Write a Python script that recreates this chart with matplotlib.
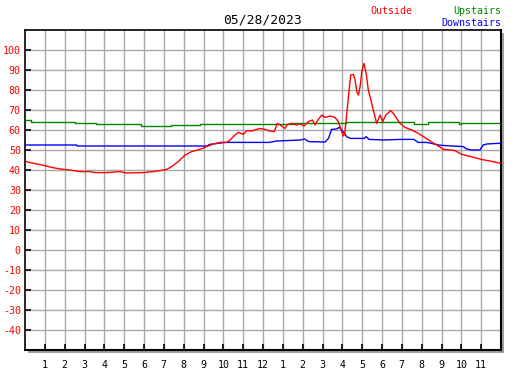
import matplotlib
matplotlib.use("Agg")
import matplotlib.pyplot as plt
from matplotlib.patches import Rectangle

title = "05/28/2023"
x_tick_hours = list(range(1, 24))
x_tick_labels = ["1", "2", "3", "4", "5", "6", "7", "8", "9", "10", "11", "12",
                 "1", "2", "3", "4", "5", "6", "7", "8", "9", "10", "11"]
y_ticks = list(range(-40, 101, 10))

out_hours = [0, 0.25, 0.6, 1.0, 1.35, 1.77, 2.27, 2.77, 3.28, 3.53, 4.1, 4.8, 5.1, 5.97,
             6.47, 6.8, 7.14, 7.4, 7.73, 8.07, 8.4, 8.82, 9.24, 9.5, 9.83, 10.17, 10.34,
             10.59, 10.76, 11.01, 11.18, 11.43, 11.68, 11.85, 12.1, 12.35, 12.57, 12.72,
             12.86, 13.11, 13.23, 13.45, 13.7, 13.87, 14.07, 14.29, 14.5, 14.62, 14.7,
             14.96, 15.13, 15.38, 15.63, 15.8, 15.97, 16.05, 16.12, 16.19, 16.3, 16.42,
             16.56, 16.64, 16.73, 16.81, 16.9, 16.98, 17.09, 17.2, 17.31, 17.48, 17.73,
             17.9, 18.03, 18.2, 18.44, 18.57, 18.74, 18.91, 19.16, 19.5, 19.83, 20.17,
             20.5, 20.76, 21.1, 21.43, 21.68, 22.02, 22.5, 23.0, 23.6, 24.0]
out_temp = [44.5, 43.7, 43.0, 42.2, 41.3, 40.5, 40.0, 39.2, 39.2, 38.7, 38.7, 39.2, 38.5,
            38.7, 39.2, 39.7, 40.3, 41.7, 44.2, 47.5, 49.2, 50.3, 52.0, 53.0, 53.8, 53.8,
            55.0, 57.5, 58.8, 57.8, 59.7, 59.5, 60.3, 60.8, 60.3, 59.5, 59.2, 63.3, 62.5,
            60.8, 62.8, 63.3, 62.5, 63.0, 62.0, 64.2, 65.0, 62.5, 64.0, 67.5, 66.3, 67.0,
            66.3, 64.2, 59.2, 57.0, 58.0, 65.0, 75.8, 87.5, 87.8, 85.0, 79.2, 77.5, 82.0,
            89.2, 93.3, 88.3, 80.0, 73.3, 63.3, 67.5, 64.2, 67.5, 69.7, 68.3, 65.8, 63.3,
            61.3, 60.0, 58.3, 56.2, 54.0, 52.5, 50.3, 50.0, 49.7, 47.8, 46.7, 45.3, 44.2,
            43.3]

up_hours = [0, 0.3, 1.4, 2.5, 3.6, 5.85, 7.36, 8.8, 13.5, 16.2, 19.6, 20.3, 21.9, 22.0, 24]
up_temp = [65.0, 64.2, 63.8, 63.3, 62.8, 62.0, 62.5, 63.0, 63.3, 63.8, 63.2, 63.8, 63.2,
           63.4, 63.3]

down_hours = [0, 2.6, 2.62, 9.2, 9.3, 10.1, 12.3, 12.7, 13.9, 14.1, 14.3, 15.13, 15.3,
              15.46, 15.7, 15.85, 15.97, 16.1, 16.22, 16.39, 17.1, 17.2, 17.35, 18.07,
              18.9, 19.6, 19.83, 20.25, 20.5, 20.84, 21.18, 22.1, 22.27, 22.52, 22.94,
              23.1, 23.28, 23.78, 24.0]
down_temp = [52.5, 52.5, 52.0, 52.0, 52.8, 53.8, 53.8, 54.5, 55.0, 55.5, 54.2, 54.0, 55.8,
             60.3, 60.5, 61.3, 60.0, 58.3, 56.7, 55.8, 55.8, 56.7, 55.3, 55.0, 55.3, 55.3,
             53.8, 53.8, 53.3, 52.5, 52.2, 51.7, 50.5, 50.0, 50.0, 52.5, 53.0, 53.3, 53.3]

W, H = 527, 370
fig = plt.figure(figsize=(W / 100, H / 100), dpi=100)
font = "DejaVu Sans Mono"

L, T, R, B = 25, 30, 501, 350
# shadow
fig.patches.append(Rectangle(((L + 3) / W, 1 - (B + 3) / H), (R - L) / W, (B - T) / H,
                             transform=fig.transFigure, facecolor="#a0a0a0",
                             edgecolor="none", zorder=-5))
ax = fig.add_axes([L / W, 1 - B / H, (R - L) / W, (B - T) / H])
ax.set_zorder(1)
ax.set_facecolor("white")
ax.set_xlim(0, 24)
ax.set_ylim(-50, 110)

ax.step(up_hours, up_temp, where="post", color="#008800", lw=1.0, zorder=3)
ax.plot(down_hours, down_temp, color="#0000ff", lw=1.0, zorder=3)
ax.plot(out_hours, out_temp, color="#ff0000", lw=1.0, zorder=4)

ax.set_xticks(x_tick_hours)
ax.set_xticklabels(x_tick_labels, fontfamily=font, fontsize=7.2, color="black")
ax.set_yticks(y_ticks)
ax.set_yticklabels([str(v) for v in y_ticks], fontfamily=font, fontsize=7.2, color="red")
ax.tick_params(axis="both", direction="in", length=4, width=1.2, color="black")
ax.tick_params(axis="x", pad=7)
ax.tick_params(axis="y", pad=3)
ax.grid(True, color="#a8a8a8", lw=1.0, zorder=1)
ax.set_axisbelow(True)
for name, s in ax.spines.items():
    s.set_linewidth(1.5 if name in ("right", "bottom") else 1.2)
    s.set_color("black")

fig.text(263 / W, 1 - 20 / H, title, ha="center", va="center", fontfamily=font,
         fontsize=9.4, color="black")
fig.text(370 / W, 1 - 11 / H, "Outside", ha="left", va="center", fontfamily=font,
         fontsize=7.2, color="red")
fig.text(501 / W, 1 - 11 / H, "Upstairs", ha="right", va="center", fontfamily=font,
         fontsize=7.2, color="#008800")
fig.text(501 / W, 1 - 23 / H, "Downstairs", ha="right", va="center", fontfamily=font,
         fontsize=7.2, color="#0000ff")

fig.savefig("out.png", dpi=100)
